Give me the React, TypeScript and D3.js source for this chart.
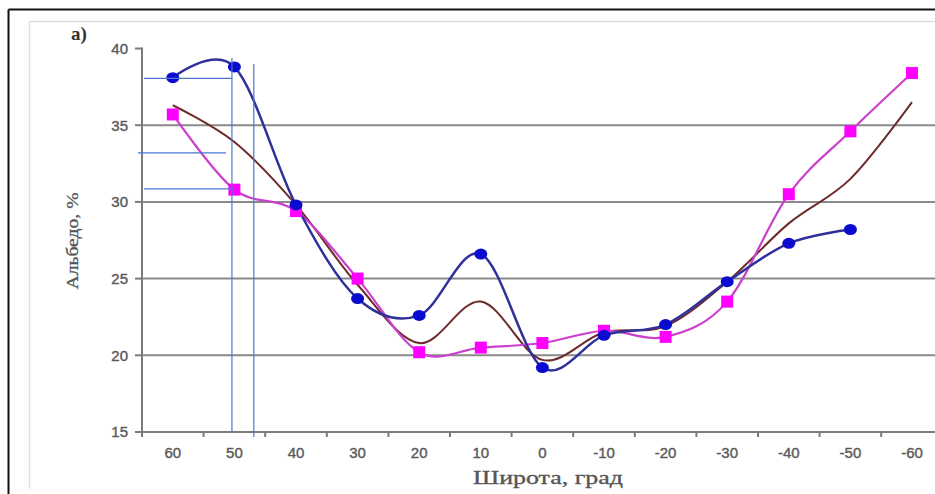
import React from "react";
import * as d3 from "d3";

const categories = ["60", "50", "40", "30", "20", "10", "0", "-10", "-20", "-30", "-40", "-50", "-60"];
const blueSeries: (number | null)[] = [38.1, 38.8, 29.8, 23.7, 22.6, 26.6, 19.2, 21.3, 22.0, 24.8, 27.3, 28.2, null];
const magentaSeries: (number | null)[] = [35.7, 30.8, 29.4, 25.0, 20.2, 20.5, 20.8, 21.6, 21.2, 23.5, 30.5, 34.6, 38.4];
const brownSeries: (number | null)[] = [36.3, 33.9, 29.8, 24.6, 20.8, 23.5, 19.7, 21.5, 21.9, 24.8, 28.6, 31.5, 36.5];
const yTicks = [15, 20, 25, 30, 35, 40];
const gridValues = [20, 25, 30, 35];
// annotation guides (in data units)
const guideLatitudes = [50.4, 46.85];
const guideLevels = [38.05, 33.2, 30.85];

const W = 935;
const H = 494;

export default function App() {
  const x = d3.scaleBand<string>().domain(categories).range([142, 142 + 13 * 61.6]).padding(0);
  const y = d3.scaleLinear().domain([15, 40]).range([432, 48.5]);
  const xc = (c: string) => (x(c) as number) + x.bandwidth() / 2;
  const latX = d3.scaleLinear().domain([60, -60]).range([xc("60"), xc("-60")]);

  const mk = (vals: (number | null)[]) =>
    d3
      .line<number | null>()
      .defined((d) => d !== null)
      .x((_, i) => xc(categories[i]))
      .y((d) => y(d as number))
      .curve(d3.curveCardinal.tension(0))(vals) || "";

  const tickColor = "#5a5a5a";
  const axisColor = "#7a7a7a";
  const guide = "#4a78d0";

  return (
    <svg
      width={W}
      height={H}
      style={{ position: "absolute", left: 0, top: 0, background: "#fff" }}
    >
      {/* outer frame */}
      <line x1={8.5} y1={9.5} x2={W} y2={9.5} stroke="#111" strokeWidth={2} />
      <line x1={8.5} y1={9.5} x2={8.5} y2={H} stroke="#111" strokeWidth={2} />
      {/* inner light frame */}
      <line x1={29.5} y1={21.5} x2={W} y2={21.5} stroke="#dedede" strokeWidth={1.5} />
      <line x1={29.5} y1={21.5} x2={29.5} y2={489} stroke="#dedede" strokeWidth={1.5} />

      <text x={71} y={40} fontFamily="Liberation Serif, serif" fontWeight="bold" fontSize={19} fill="#333">
        а)
      </text>

      {/* gridlines */}
      {gridValues.map((v) => (
        <line key={v} x1={142} x2={W} y1={y(v)} y2={y(v)} stroke="#8a8a8a" strokeWidth={2} />
      ))}

      {/* y axis */}
      <line x1={142} x2={142} y1={y(40) - 1} y2={y(15)} stroke={axisColor} strokeWidth={2} />
      {yTicks.map((t) => (
        <g key={t}>
          <line x1={135} x2={142} y1={y(t)} y2={y(t)} stroke={axisColor} strokeWidth={2} />
          <text
            x={128}
            y={y(t)}
            dy="0.36em"
            textAnchor="end"
            fontFamily="Liberation Sans, Arial, sans-serif"
            fontSize={15}
            fill={tickColor}
            stroke={tickColor}
            strokeWidth={0.4}
          >
            {t}
          </text>
        </g>
      ))}

      {/* x axis */}
      <line x1={142} x2={W} y1={y(15)} y2={y(15)} stroke={axisColor} strokeWidth={2} />
      {categories.map((c) => (
        <g key={c}>
          <line
            x1={x(c) as number}
            x2={x(c) as number}
            y1={y(15)}
            y2={y(15) + 5}
            stroke={axisColor}
            strokeWidth={2}
          />
          <text
            x={xc(c)}
            y={458}
            textAnchor="middle"
            fontFamily="Liberation Sans, Arial, sans-serif"
            fontSize={15}
            fill={tickColor}
            stroke={tickColor}
            strokeWidth={0.4}
          >
            {c}
          </text>
        </g>
      ))}

      <text
        x={548}
        y={484}
        textAnchor="middle"
        fontFamily="Liberation Serif, serif"
        fontSize={18}
        fill="#555"
        stroke="#555"
        strokeWidth={0.3}
        textLength={150}
        lengthAdjust="spacingAndGlyphs"
      >
        Широта, град
      </text>
      <text
        transform={`translate(78,${241}) rotate(-90)`}
        textAnchor="middle"
        fontFamily="Liberation Serif, serif"
        fontSize={16}
        fill="#555"
        stroke="#555"
        strokeWidth={0.3}
        textLength={97}
        lengthAdjust="spacingAndGlyphs"
      >
        Альбедо, %
      </text>

      {/* series lines */}
      <path d={mk(brownSeries)} fill="none" stroke="#6e2b2b" strokeWidth={2} />
      <path d={mk(magentaSeries)} fill="none" stroke="#cc3fcc" strokeWidth={2.2} />
      <path d={mk(blueSeries)} fill="none" stroke="#30309a" strokeWidth={2.5} />

      {/* markers */}
      {magentaSeries.map((v, i) =>
        v === null ? null : (
          <rect
            key={"m" + i}
            x={xc(categories[i]) - 6}
            y={y(v) - 6}
            width={12}
            height={12}
            fill="#ff00ff"
          />
        )
      )}
      {blueSeries.map((v, i) =>
        v === null ? null : (
          <ellipse key={"b" + i} cx={xc(categories[i])} cy={y(v)} rx={6.5} ry={5.5} fill="#0b0bd0" />
        )
      )}

      {/* annotation guides */}
      <line x1={latX(guideLatitudes[0])} x2={latX(guideLatitudes[0])} y1={58} y2={y(15)} stroke={guide} strokeWidth={1.2} />
      <line x1={latX(guideLatitudes[1])} x2={latX(guideLatitudes[1])} y1={64} y2={y(15) + 5} stroke={guide} strokeWidth={1.2} />
      <line x1={144} x2={latX(guideLatitudes[0])} y1={y(guideLevels[0])} y2={y(guideLevels[0])} stroke={guide} strokeWidth={1.2} />
      <line x1={138} x2={226} y1={y(guideLevels[1])} y2={y(guideLevels[1])} stroke={guide} strokeWidth={1.2} />
      <line x1={144} x2={latX(guideLatitudes[0])} y1={y(guideLevels[2])} y2={y(guideLevels[2])} stroke={guide} strokeWidth={1.2} />
    </svg>
  );
}
